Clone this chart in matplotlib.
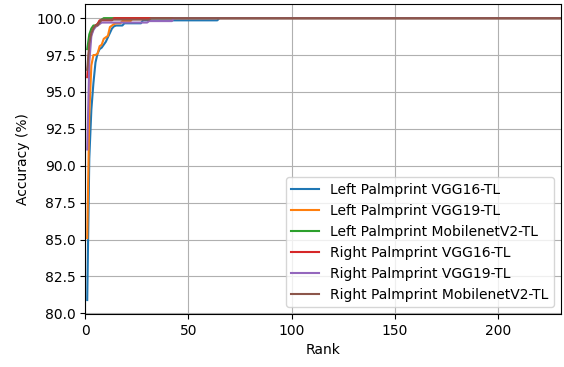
import matplotlib
matplotlib.use("Agg")
import matplotlib.pyplot as plt
import numpy as np

n_ranks = 230
ranks = np.arange(1, n_ranks + 1)

# accuracy (%) for the first ranks, after that every curve stays at 100
left_vgg16 = [80.9, 90.5, 93.8, 95.6, 97.0, 97.6, 97.9, 98.0, 98.2, 98.4,
              98.7, 99.0, 99.3, 99.45, 99.5, 99.5, 99.5, 99.5] + [99.65] * 9 + [99.85] * 37
left_vgg19 = [85.1, 93.5, 96.8, 97.5, 97.5, 97.6, 98.1, 98.2, 98.6, 98.7,
              98.8, 99.4, 99.5, 99.6, 99.65, 99.65, 99.65, 99.8, 99.8, 99.8, 99.8, 99.8]
left_mobilenet = [97.9, 98.9, 99.3, 99.5, 99.5, 99.6, 99.8, 99.9]
right_vgg16 = [96.0, 98.0, 98.9, 99.3, 99.5, 99.6, 99.85, 99.85, 99.85, 99.85,
               99.85, 99.85, 99.85]
right_vgg19 = [91.1, 97.0, 98.8, 99.2, 99.4, 99.5, 99.6] + [99.7] * 23 + [99.8] * 12
right_mobilenet = [96.5, 98.3, 99.0, 99.3, 99.5, 99.5, 99.7] + [99.9] * 24

labels = ["Left Palmprint VGG16-TL", "Left Palmprint VGG19-TL",
          "Left Palmprint MobilenetV2-TL", "Right Palmprint VGG16-TL",
          "Right Palmprint VGG19-TL", "Right Palmprint MobilenetV2-TL"]
series = [left_vgg16, left_vgg19, left_mobilenet, right_vgg16, right_vgg19, right_mobilenet]


def pad(vals):
    return vals + [100.0] * (n_ranks - len(vals))


fig = plt.figure(figsize=(5.64, 3.67), dpi=100)
ax = fig.add_axes([0.151, 0.144, 0.844, 0.845])

for vals, lab in zip(series, labels):
    ax.plot(ranks, pad(vals), label=lab)

ax.set_xlim(0, 230.5)
ax.set_xlabel("Rank")
ax.set_ylabel("Accuracy (%)")
ax.grid(True)
ax.legend(loc="lower right")

fig.savefig("out.png", dpi=100)
